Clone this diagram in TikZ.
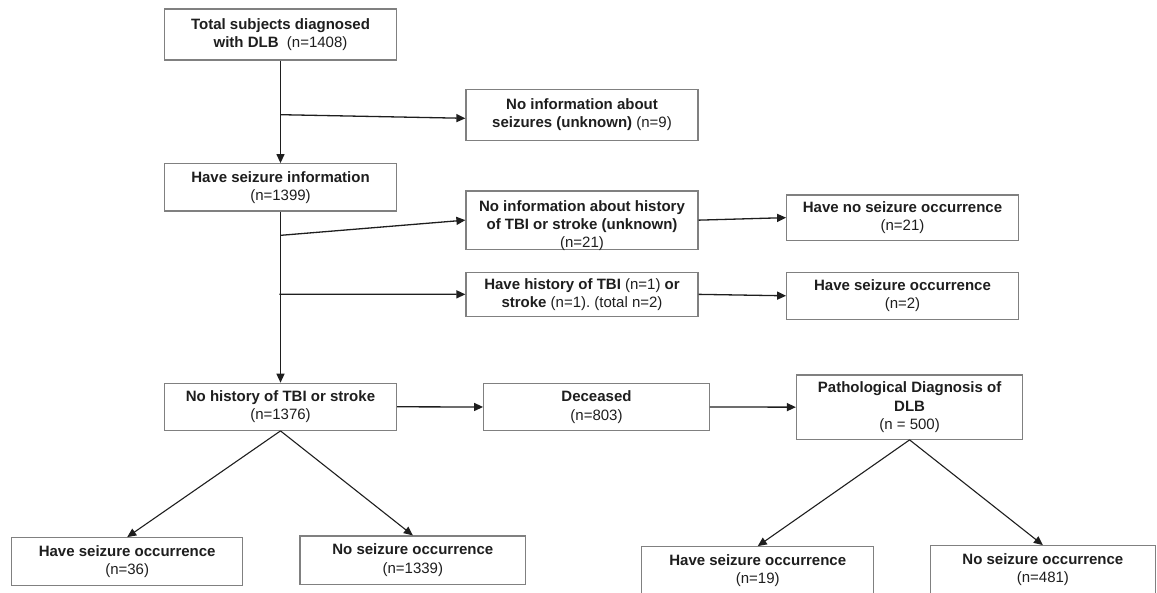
\documentclass[tikz,border=0pt]{standalone}
\usepackage{fontspec}
\setmainfont{Liberation Sans}
\usetikzlibrary{arrows.meta,calc}
\definecolor{boxgray}{HTML}{808080}
\definecolor{ink}{HTML}{1E1E1E}
\frenchspacing
\begin{document}
\begin{tikzpicture}[x=1pt,y=-1pt,
  box/.style={draw=boxgray,line width=1.2pt,fill=white,inner sep=0pt,align=center,text=ink,font=\fontsize{15}{18.3}\selectfont},
  txt/.style={inner sep=0pt,align=center,text=ink,font=\fontsize{15}{18.3}\selectfont},
  arr/.style={draw=ink,line width=1.3pt,-{Triangle[length=9pt,width=8pt]}},
  diag/.style={arr,line width=1.1pt}]
\useasboundingbox (0,0) rectangle (1157,593);
\clip (0,0) rectangle (1157,593);

\node[box,minimum width=232,minimum height=51] (b1) at (280.5,34.5)
  {\textbf{Total subjects diagnosed}\\\textbf{with DLB}\ \ (n=1408)};
\node[box,minimum width=232,minimum height=51] (b2) at (582,114.8)
  {\textbf{No information about}\\\textbf{seizures (unknown)} (n=9)};
\node[box,minimum width=232,minimum height=47.3] (b3) at (280.5,187.35)
  {\textbf{Have seizure information}\\(n=1399)};
\node[box,minimum width=232,minimum height=58.3] (b4) at (582,220.15) {};
\node[txt] (t4) at (582,225.5)
  {\textbf{No information about history}\\\textbf{of TBI or stroke (unknown)}\\(n=21)};
\node[box,minimum width=232,minimum height=44.3] (b5) at (582,294.35)
  {\textbf{Have history of TBI} (n=1) \textbf{or}\\\textbf{stroke} (n=1). (total n=2)};
\node[box,minimum width=231.6,minimum height=45.3] (b6) at (902.5,217.65)
  {\textbf{Have no seizure occurrence}\\(n=21)};
\node[box,minimum width=231.6,minimum height=47] (b7) at (902.5,295.8)
  {\textbf{Have seizure occurrence}\\(n=2)};
\node[box,minimum width=232,minimum height=47] (b8) at (280.5,406.8)
  {\textbf{No history of TBI or stroke}\\(n=1376)};
\node[box,minimum width=225.6,minimum height=47.4] (dec) at (596.5,407)
  {\textbf{Deceased}\\(n=803)};
\node[box,minimum width=226.2,minimum height=64.3] (path) at (909.6,407.15)
  {\textbf{Pathological Diagnosis of}\\\textbf{DLB}\\(n = 500)};
\node[box,minimum width=231,minimum height=48] (b9) at (127.2,561.7)
  {\textbf{Have seizure occurrence}\\(n=36)};
\node[box,minimum width=225.7,minimum height=48.3] (b10) at (412.85,560.15)
  {\textbf{No seizure occurrence}\\(n=1339)};
\node[box,minimum width=232,minimum height=48] (b11) at (757.75,570.7)
  {\textbf{Have seizure occurrence}\\(n=19)};
\node[box,minimum width=225.2,minimum height=48] (b12) at (1042.9,569.7)
  {\textbf{No seizure occurrence}\\(n=481)};

\coordinate (j1) at (281,114.7);
\coordinate (j2) at (281,235.3);
\coordinate (j3) at (279.3,294.3);

\draw[arr] (b1.south) -- (b3.north);
\draw[arr] (b3.south) -- (b8.north);
\draw[arr] (j1) -- ([yshift=-3.5pt]b2.west);
\draw[arr] (j2) -- (b4.west);
\draw[arr] (j3) -- (b5.west);
\draw[arr] (b4.east) -- (b6.west);
\draw[arr] (b5.east) -- (b7.west);
\draw[arr] (b8.east) -- (dec.west);
\draw[arr] (dec.east) -- (path.west);
\draw[diag] (b8.south) -- (b9.north);
\draw[diag] (b8.south) -- (b10.north);
\draw[diag] (path.south) -- (b11.north);
\draw[diag] (path.south) -- (b12.north);
\end{tikzpicture}
\end{document}
